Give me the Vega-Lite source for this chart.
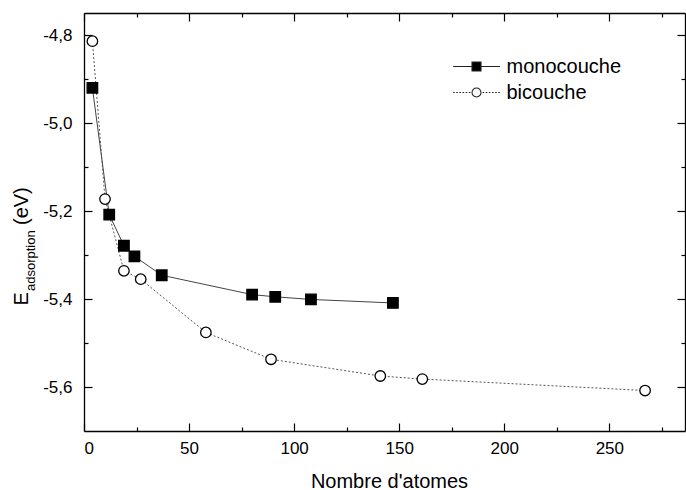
{
  "$schema": "https://vega.github.io/schema/vega-lite/v6.json",
  "autosize": {"type": "none"},
  "padding": {"left": 84, "top": 13, "right": 1, "bottom": 59},
  "width": 601,
  "height": 418,
  "background": "white",
  "config": {
    "view": {"stroke": null},
    "font": "Liberation Sans",
    "axis": {
      "domainColor": "black", "domainWidth": 1.3, "tickColor": "black", "tickWidth": 1.2,
      "labelColor": "black", "titleColor": "black", "labelFont": "Liberation Sans", "titleFont": "Liberation Sans",
      "labelFontSize": 17, "titleFontSize": 20, "titleFontWeight": "normal", "grid": false
    }
  },
  "data": {
    "values": [
      {"n": 4, "E": -4.920, "serie": "monocouche"},
      {"n": 12, "E": -5.208, "serie": "monocouche"},
      {"n": 19, "E": -5.279, "serie": "monocouche"},
      {"n": 24, "E": -5.303, "serie": "monocouche"},
      {"n": 37, "E": -5.346, "serie": "monocouche"},
      {"n": 80, "E": -5.390, "serie": "monocouche"},
      {"n": 91, "E": -5.395, "serie": "monocouche"},
      {"n": 108, "E": -5.401, "serie": "monocouche"},
      {"n": 147, "E": -5.409, "serie": "monocouche"},
      {"n": 4, "E": -4.814, "serie": "bicouche"},
      {"n": 10, "E": -5.173, "serie": "bicouche"},
      {"n": 19, "E": -5.336, "serie": "bicouche"},
      {"n": 27, "E": -5.355, "serie": "bicouche"},
      {"n": 58, "E": -5.476, "serie": "bicouche"},
      {"n": 89, "E": -5.537, "serie": "bicouche"},
      {"n": 141, "E": -5.575, "serie": "bicouche"},
      {"n": 161, "E": -5.582, "serie": "bicouche"},
      {"n": 267, "E": -5.608, "serie": "bicouche"}
    ]
  },
  "resolve": {
    "scale": {"shape": "independent", "fill": "independent"},
    "axis": {"x": "independent", "y": "independent"}
  },
  "layer": [
    {
      "transform": [{"filter": "datum.serie === 'monocouche'"}],
      "mark": {"type": "line", "stroke": "#444", "strokeWidth": 1},
      "encoding": {
        "x": {"field": "n", "type": "quantitative", "scale": {"domain": [0, 286], "nice": false, "zero": false},
          "axis": {"orient": "bottom", "values": [0, 50, 100, 150, 200, 250], "tickSize": -8, "labelPadding": 17.5,
            "title": "Nombre d'atomes", "titleColor": "black", "titleX": 305, "titleY": 56, "titleAlign": "center", "titleBaseline": "alphabetic"}},
        "y": {"field": "E", "type": "quantitative", "scale": {"domain": [-5.7, -4.75], "nice": false, "zero": false},
          "axis": {"orient": "left", "values": [-4.8, -5.0, -5.2, -5.4, -5.6], "tickSize": -8, "labelPadding": 20,
            "labelExpr": "replace(replace(format(datum.value, '.1f'), '.', ','), '\u2212', '-')",
            "title": "E", "titleColor": "black", "titleX": -57, "titleY": 292, "titleAngle": 270, "titleAlign": "left", "titleBaseline": "alphabetic"}}
      }
    },
    {
      "transform": [{"filter": "datum.serie === 'bicouche'"}],
      "mark": {"type": "line", "stroke": "#555", "strokeWidth": 1, "strokeDash": [2, 2]},
      "encoding": {
        "x": {"field": "n", "type": "quantitative", "scale": {"domain": [0, 286], "nice": false, "zero": false},
          "axis": {"orient": "top", "values": [0, 50, 100, 150, 200, 250], "tickSize": -8, "labels": false, "title": null}},
        "y": {"field": "E", "type": "quantitative", "scale": {"domain": [-5.7, -4.75], "nice": false, "zero": false},
          "axis": {"orient": "right", "values": [-4.8, -5.0, -5.2, -5.4, -5.6], "tickSize": -8, "labels": false, "title": null}}
      }
    },
    {
      "mark": {"type": "point", "filled": true, "opacity": 1, "stroke": "black", "strokeWidth": 1.3, "size": 110},
      "encoding": {
        "x": {"field": "n", "type": "quantitative", "scale": {"domain": [0, 286], "nice": false, "zero": false},
          "axis": {"orient": "bottom", "values": [25, 75, 125, 175, 225, 275], "tickSize": -4, "labels": false, "domain": false, "title": null}},
        "y": {"field": "E", "type": "quantitative", "scale": {"domain": [-5.7, -4.75], "nice": false, "zero": false},
          "axis": {"orient": "left", "values": [-4.9, -5.1, -5.3, -5.5], "tickSize": -4, "labels": false, "domain": false,
            "title": "(eV)", "titleColor": "black", "titleX": -57, "titleY": 211.5, "titleAngle": 270, "titleAlign": "left", "titleBaseline": "alphabetic"}},
        "shape": {"field": "serie", "type": "nominal", "scale": {"domain": ["monocouche", "bicouche"], "range": ["square", "circle"]}, "legend": null},
        "fill": {"field": "serie", "type": "nominal", "scale": {"domain": ["monocouche", "bicouche"], "range": ["black", "white"]}, "legend": null}
      }
    },
    {
      "mark": {"type": "point", "filled": true, "opacity": 0, "stroke": "#222", "strokeWidth": 1.1, "size": 81},
      "encoding": {
        "x": {"field": "n", "type": "quantitative", "scale": {"domain": [0, 286], "nice": false, "zero": false},
          "axis": {"orient": "top", "values": [25, 75, 125, 175, 225, 275], "tickSize": -4, "labels": false, "domain": false, "title": null}},
        "y": {"field": "E", "type": "quantitative", "scale": {"domain": [-5.7, -4.75], "nice": false, "zero": false},
          "axis": {"orient": "right", "values": [-4.9, -5.1, -5.3, -5.5], "tickSize": -4, "labels": false, "domain": false,
            "title": "adsorption", "titleColor": "black", "titleFontSize": 13, "titleX": -651, "titleY": 277.5, "titleAngle": 270, "titleAlign": "left", "titleBaseline": "alphabetic"}},
        "shape": {"field": "serie", "type": "nominal",
          "scale": {"domain": ["monocouche", "bicouche"],
            "range": ["M-5.2,0H-1M1,0H5.2M-1,-1H1V1H-1Z",
                      "M-5.2,0H-4.85M-4.5,0H-4.15M-3.8,0H-3.45M-3.1,0H-2.75M-2.4,0H-2.05M-1.7,0H-1.35M1.35,0H1.7M2.05,0H2.4M2.75,0H3.1M3.45,0H3.8M4.15,0H4.5M4.85,0H5.2M1,0A1,1,0,1,1,-1,0A1,1,0,1,1,1,0Z"]},
          "legend": {"orient": "none", "legendX": 382.5, "legendY": 43.5, "title": null, "padding": 0, "labelFont": "Liberation Sans",
            "labelFontSize": 20, "labelColor": "black", "symbolSize": 81, "labelOffset": 20, "rowPadding": 6, "symbolOpacity": 1,
            "symbolStrokeColor": "#222", "symbolStrokeWidth": 1.1,
            "encode": {"symbols": {"update": {"stroke": {"value": "#222"}, "strokeWidth": {"value": 1.1}, "opacity": {"value": 1}}}}}},
        "fill": {"field": "serie", "type": "nominal", "scale": {"domain": ["monocouche", "bicouche"], "range": ["black", "white"]},
          "legend": {"orient": "none", "legendX": 382.5, "legendY": 43.5, "title": null, "padding": 0, "labelFont": "Liberation Sans",
            "labelFontSize": 20, "labelColor": "black", "symbolSize": 81, "labelOffset": 20, "rowPadding": 6, "symbolOpacity": 1,
            "symbolStrokeColor": "#222", "symbolStrokeWidth": 1.1,
            "encode": {"symbols": {"update": {"stroke": {"value": "#222"}, "strokeWidth": {"value": 1.1}, "opacity": {"value": 1}}}}}}
      }
    }
  ]
}
